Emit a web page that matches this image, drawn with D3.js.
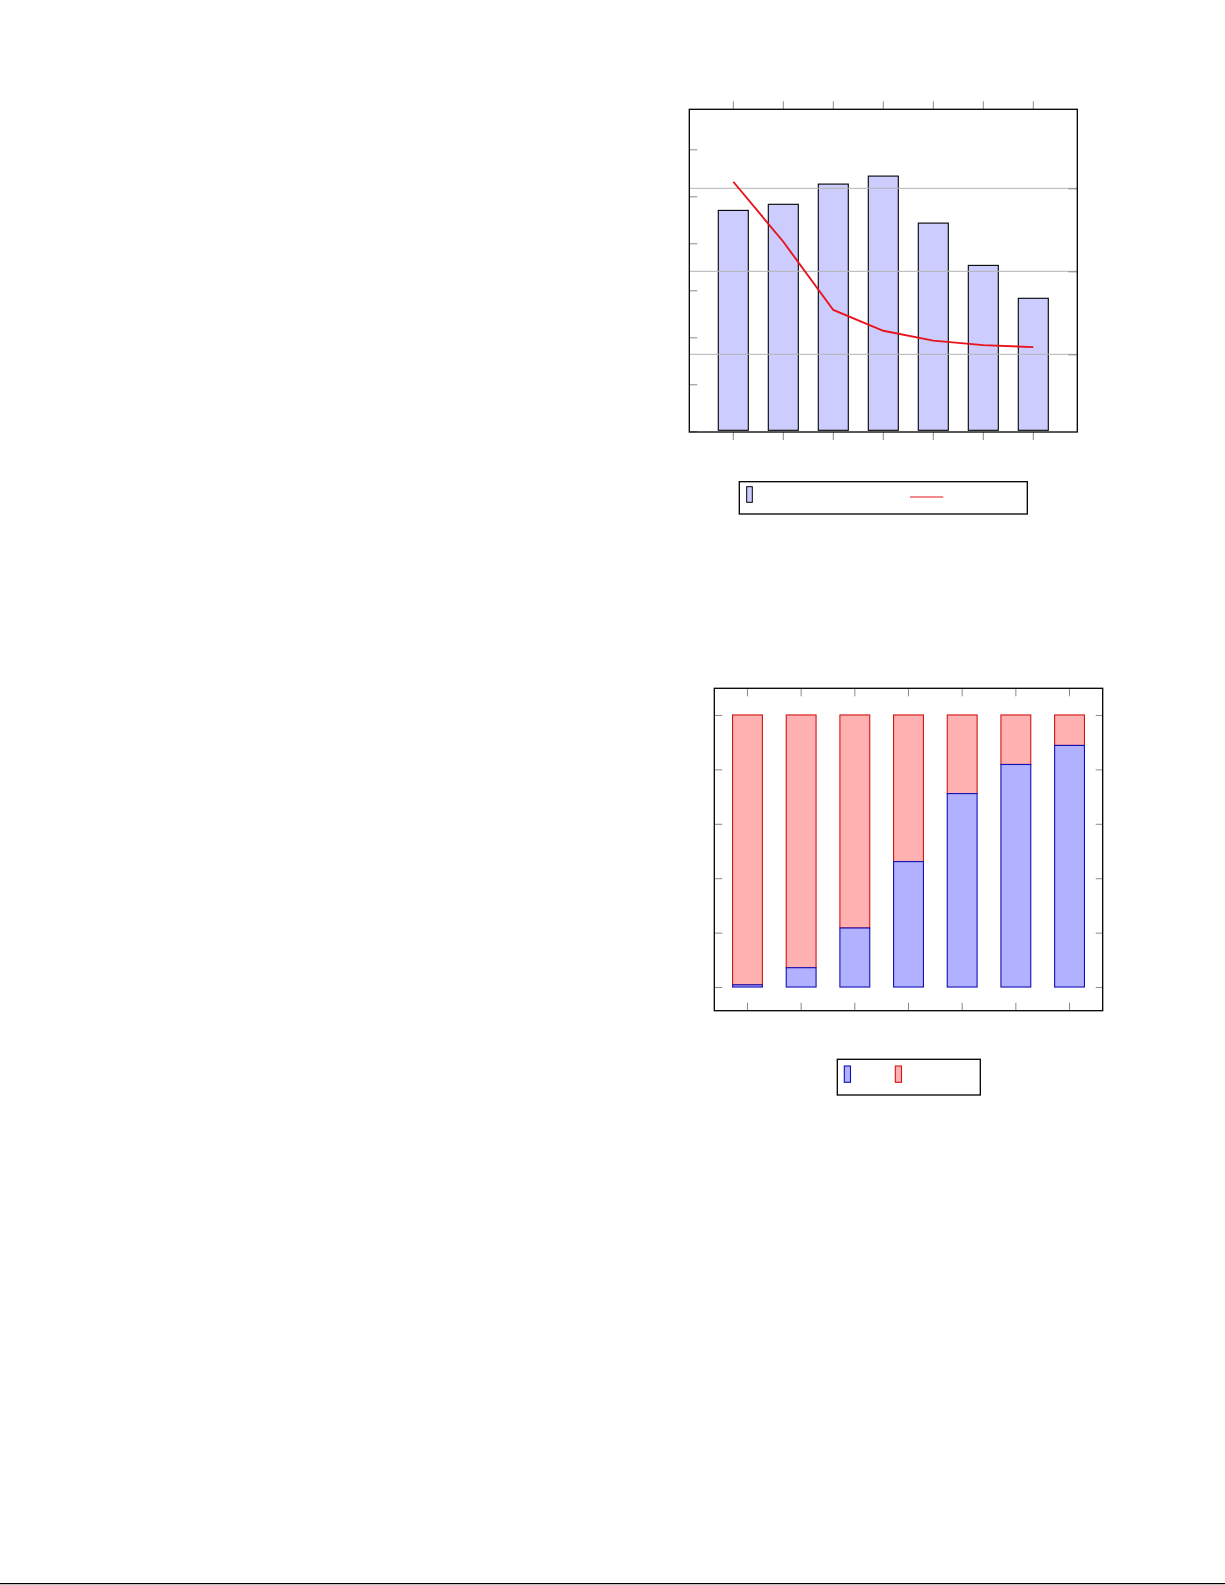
<!DOCTYPE html>
<html>
<head>
<meta charset="utf-8">
<script src="https://cdn.jsdelivr.net/npm/d3@7"></script>
<style>
  html, body { margin: 0; padding: 0; background: #fff; }
  svg { display: block; }
</style>
</head>
<body>
<div id="chart"></div>
<script>
// ---- data ----
// chart 1: bars on the left axis, red line on a log right axis
let categories = ["c1", "c2", "c3", "c4", "c5", "c6", "c7"];
let barValues = [47.0, 48.3, 52.6, 54.3, 44.3, 35.3, 28.3];
let lineValues = [1200, 227, 34.2, 19.2, 14.6, 12.9, 12.2];
let leftTicks = [0, 10, 20, 30, 40, 50, 60];
let rightTicks = [10, 100, 1000];

// chart 2: stacked percent bars
let shareBlue = [0.8, 7.1, 21.7, 46.1, 71.1, 81.8, 88.8];
let shareRed = shareBlue.map((d) => 100 - d);
let percentTicks = [0, 20, 40, 60, 80, 100];

let svg = d3.select("#chart").append("svg")
	.attr("width", 1225)
	.attr("height", 1585);

// bottom rule of the page
svg.append("line")
	.attr("x1", 0).attr("x2", 1225)
	.attr("y1", 1583.7).attr("y2", 1583.7)
	.attr("stroke", "#000").attr("stroke-width", 1.3);

let tickColor = "#8a8a8a";

// ================= chart 1 =================
let f1 = { left: 689.3, right: 1077.3, top: 109.3, bottom: 432 };

let x1 = d3.scaleBand()
	.domain(categories)
	.range([f1.left, f1.right])
	.paddingInner(0.4)
	.paddingOuter(0.58);

// left axis: ticks every 10 units, 47px apart, zero at 431.3
let yLeft = d3.scaleLinear()
	.domain([0, 10 * (431.3 - f1.top) / 47])
	.range([431.3, f1.top]);

let yRight = d3.scaleLog()
	.domain([Math.pow(10, 0.064), Math.pow(10, 3.952)])
	.range([f1.bottom, f1.top]);

let g1 = svg.append("g");

// bars
g1.selectAll("rect.bar")
	.data(barValues)
	.enter()
	.append("rect")
	.attr("class", "bar")
	.attr("x", (d, i) => x1(categories[i]))
	.attr("width", x1.bandwidth())
	.attr("y", (d) => yLeft(d))
	.attr("height", (d) => yLeft(0) - 1 - yLeft(d))
	.attr("fill", "#ccccff")
	.attr("stroke", "#000")
	.attr("stroke-width", 1.1);

// left ticks (inside)
g1.append("g")
	.attr("transform", `translate(${f1.left},0)`)
	.call(d3.axisRight(yLeft).tickValues(leftTicks).tickSize(8).tickFormat(""))
	.call((g) => g.select(".domain").remove())
	.call((g) => g.selectAll("line").attr("stroke", tickColor));

// top and bottom ticks (outside)
let xTickAxis = (g, dir, y) => g.attr("transform", `translate(0,${y})`)
	.call(dir(x1).tickSize(8).tickSizeOuter(0).tickFormat(""))
	.call((g) => g.select(".domain").remove())
	.call((g) => g.selectAll("line").attr("stroke", tickColor));
g1.append("g").call(xTickAxis, d3.axisTop, f1.top);
g1.append("g").call(xTickAxis, d3.axisBottom, f1.bottom);

// right axis grid lines + ticks (drawn over bars)
g1.selectAll("line.grid")
	.data(rightTicks)
	.enter()
	.append("line")
	.attr("class", "grid")
	.attr("x1", f1.left).attr("x2", f1.right)
	.attr("y1", (d) => yRight(d)).attr("y2", (d) => yRight(d))
	.attr("stroke", "#b4b4b4").attr("stroke-width", 1);

g1.append("g")
	.attr("transform", `translate(${f1.right},0)`)
	.call(d3.axisLeft(yRight).tickValues(rightTicks).tickSize(9).tickFormat(""))
	.call((g) => g.select(".domain").remove())
	.call((g) => g.selectAll("line").attr("stroke", tickColor));

// red line
let line1 = d3.line()
	.x((d, i) => x1(categories[i]) + x1.bandwidth() / 2)
	.y((d) => yRight(d));

g1.append("path")
	.datum(lineValues)
	.attr("d", line1)
	.attr("fill", "none")
	.attr("stroke", "#e8141c")
	.attr("stroke-width", 1.9);

// frame
g1.append("rect")
	.attr("x", f1.left).attr("y", f1.top)
	.attr("width", f1.right - f1.left).attr("height", f1.bottom - f1.top)
	.attr("fill", "none").attr("stroke", "#000").attr("stroke-width", 1.3);

// legend 1
let leg1 = svg.append("g");
leg1.append("rect")
	.attr("x", 739.3).attr("y", 481.7).attr("width", 288).attr("height", 32.3)
	.attr("fill", "#fff").attr("stroke", "#000").attr("stroke-width", 1.3);
leg1.append("rect")
	.attr("x", 746.7).attr("y", 486.7).attr("width", 5.6).attr("height", 15.6)
	.attr("fill", "#ccccff").attr("stroke", "#000").attr("stroke-width", 1);
leg1.append("line")
	.attr("x1", 910).attr("x2", 943.3).attr("y1", 497).attr("y2", 497)
	.attr("stroke", "#e8141c").attr("stroke-width", 1.2);

// ================= chart 2 =================
let f2 = { left: 714.3, right: 1102.7, top: 688.3, bottom: 1010.7 };

let x2 = d3.scaleBand()
	.domain(categories)
	.range([f2.left, f2.right])
	.paddingInner(0.444)
	.paddingOuter(0.34);

let y2 = d3.scaleLinear()
	.domain([-8.7, 109.8])
	.range([f2.bottom, f2.top]);

let stackData = categories.map((c, i) => ({ cat: c, blue: shareBlue[i], red: shareRed[i] }));
let stack = d3.stack().keys(["blue", "red"])(stackData);
let fills = { blue: "#b1b1ff", red: "#ffb1b1" };
let strokes = { blue: "#1010b8", red: "#d21414" };

let g2 = svg.append("g");

// ticks inside the frame
let tickLines = (g) => g.call((g) => g.select(".domain").remove())
	.call((g) => g.selectAll("line").attr("stroke", tickColor));
g2.append("g").attr("transform", `translate(0,${f2.top})`)
	.call(d3.axisBottom(x2).tickSize(8).tickFormat("")).call(tickLines);
g2.append("g").attr("transform", `translate(0,${f2.bottom})`)
	.call(d3.axisTop(x2).tickSize(8).tickFormat("")).call(tickLines);
g2.append("g").attr("transform", `translate(${f2.left},0)`)
	.call(d3.axisRight(y2).tickValues(percentTicks).tickSize(8).tickFormat("")).call(tickLines);
g2.append("g").attr("transform", `translate(${f2.right},0)`)
	.call(d3.axisLeft(y2).tickValues(percentTicks).tickSize(7).tickFormat("")).call(tickLines);

// stacked bars: red layer first so blue edge sits on top
g2.selectAll("g.layer")
	.data(stack.slice().reverse())
	.enter()
	.append("g")
	.attr("class", "layer")
	.attr("fill", (s) => fills[s.key])
	.attr("stroke", (s) => strokes[s.key])
	.attr("stroke-width", 1.1)
	.selectAll("rect")
	.data((s) => s)
	.enter()
	.append("rect")
	.attr("x", (d) => x2(d.data.cat))
	.attr("width", x2.bandwidth())
	.attr("y", (d) => y2(d[1]))
	.attr("height", (d) => y2(d[0]) - y2(d[1]));

// frame
g2.append("rect")
	.attr("x", f2.left).attr("y", f2.top)
	.attr("width", f2.right - f2.left).attr("height", f2.bottom - f2.top)
	.attr("fill", "none").attr("stroke", "#000").attr("stroke-width", 1.3);

// legend 2
let leg2 = svg.append("g");
leg2.append("rect")
	.attr("x", 837.3).attr("y", 1059.3).attr("width", 143).attr("height", 35.7)
	.attr("fill", "#fff").attr("stroke", "#000").attr("stroke-width", 1.3);
leg2.selectAll("rect.icon")
	.data(["blue", "red"])
	.enter()
	.append("rect")
	.attr("class", "icon")
	.attr("x", (d, i) => 844.3 + i * 51)
	.attr("y", 1066).attr("width", 6.2).attr("height", 16.3)
	.attr("fill", (d) => fills[d])
	.attr("stroke", (d) => strokes[d])
	.attr("stroke-width", 1.1);
</script>
</body>
</html>
